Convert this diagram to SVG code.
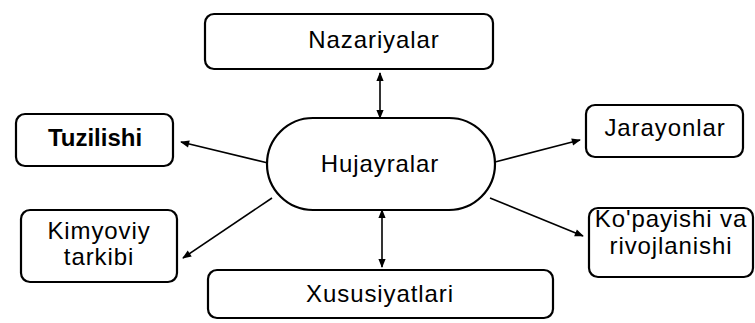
<svg xmlns="http://www.w3.org/2000/svg" width="755" height="323" viewBox="0 0 755 323">
<style>
.box{fill:#fff;stroke:#000;stroke-width:2.2}
.t{font-family:"Liberation Sans",Arial,sans-serif;font-size:24px;letter-spacing:0.9px;fill:#000;text-anchor:middle}
.c{stroke:#000;stroke-width:1.6;fill:none}
</style>
<defs>
<marker id="ah" viewBox="0 0 10 10" refX="9" refY="5" markerWidth="10" markerHeight="9" markerUnits="userSpaceOnUse" orient="auto-start-reverse"><path d="M0,1 L10,5 L0,9 Z" fill="#000"/></marker>
</defs>
<rect width="755" height="323" fill="#fff"/>
<g id="connectors">
<line class="c" x1="380" y1="118" x2="380" y2="73" marker-end="url(#ah)" marker-start="url(#ah)"/>
<line class="c" x1="382" y1="210" x2="382" y2="267" marker-end="url(#ah)" marker-start="url(#ah)"/>
<line class="c" x1="268" y1="163" x2="181" y2="142" marker-end="url(#ah)"/>
<line class="c" x1="272" y1="198" x2="183" y2="258" marker-end="url(#ah)"/>
<line class="c" x1="495" y1="162" x2="580" y2="140" marker-end="url(#ah)"/>
<line class="c" x1="490" y1="198" x2="583" y2="236" marker-end="url(#ah)"/>
</g>
<g id="nazariyalar"><rect class="box" x="205" y="14" width="288" height="55" rx="9"/><text class="t" x="374" y="48">Nazariyalar</text></g>
<g id="hujayralar"><rect class="box" x="267" y="118" width="228" height="92" rx="46"/><text class="t" x="380" y="172">Hujayralar</text></g>
<g id="tuzilishi"><rect class="box" x="16" y="114" width="157" height="52" rx="9"/><text class="t" x="95" y="146" style="font-weight:bold;letter-spacing:0">Tuzilishi</text></g>
<g id="jarayonlar"><rect class="box" x="586" y="105" width="157" height="52" rx="9"/><text class="t" x="665" y="136">Jarayonlar</text></g>
<g id="kimyoviy"><rect class="box" x="21" y="210" width="156" height="72" rx="9"/><text class="t" x="99" y="239">Kimyoviy</text><text class="t" x="99" y="265">tarkibi</text></g>
<g id="kopayishi"><rect class="box" x="589" y="208" width="164" height="69" rx="9"/><text class="t" x="671" y="227">Ko'payishi va</text><text class="t" x="671" y="254">rivojlanishi</text></g>
<g id="xususiyatlari"><rect class="box" x="208" y="270" width="345" height="48" rx="9"/><text class="t" x="380" y="302">Xususiyatlari</text></g>
</svg>
